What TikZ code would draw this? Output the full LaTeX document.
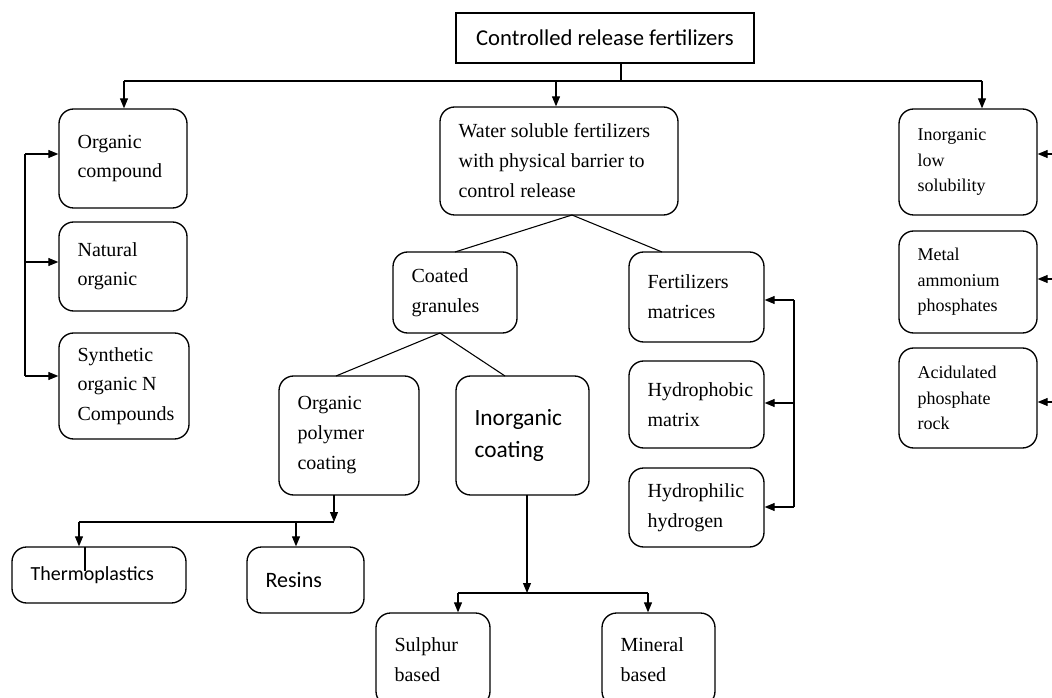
\documentclass[tikz,border=0pt]{standalone}
\usepackage{fontspec}
\setmainfont{Liberation Serif}
\newfontfamily\calib{Carlito}
\usetikzlibrary{arrows.meta,calc}
\tikzset{
  boxst/.style={draw, line width=1pt, rounded corners=11pt, inner sep=0pt},
  conn/.style={line width=0.8pt},
  arr/.style={line width=0.8pt, -{Triangle[length=7.5pt,width=6pt]}},
  midserif/.style={font=\fontsize{15}{22.5}\selectfont, align=left, inner sep=0pt},
  leftserif/.style={font=\fontsize{15}{22}\selectfont, align=left, inner sep=0pt},
  rightserif/.style={font=\fontsize{13.5}{19}\selectfont, align=left, inner sep=0pt},
  sanstxt/.style={font=\calib\fontsize{16.5}{24}\selectfont, align=left, inner sep=0pt},
  sansbig/.style={font=\calib\fontsize{17.5}{24}\selectfont, align=left, inner sep=0pt},
  sanssmall/.style={font=\calib\fontsize{15}{20}\selectfont, align=left, inner sep=0pt},
}
\newcommand{\mybox}[7]{%
  \pgfmathsetmacro\bw{(#4-#2)*0.75}%
  \pgfmathsetmacro\bh{(#5-#3)*0.75}%
  \node[boxst,minimum width=\bw pt,minimum height=\bh pt] (#1) at ({(#2+#4)/2},{(#3+#5)/2}) {};%
  \node[#6,anchor=west] (#1-t) at ([xshift=14.25pt]#1.west) {#7};%
}
\begin{document}
\begin{tikzpicture}[x=0.75pt,y=-0.75pt]
\useasboundingbox (0,0) rectangle (1052,698);
\clip (0,0) rectangle (1052,698);
% top
\node[draw, line width=1pt, minimum width=223.5pt, minimum height=37.5pt, inner sep=0pt,
      font=\calib\fontsize{17}{20}\selectfont] (top) at (605,38) {Controlled release fertilizers};
% boxes
\mybox{oc}{59}{109}{187}{208}{leftserif}{Organic\\compound}
\mybox{no}{59}{222}{187}{311}{leftserif}{Natural\\organic}
\mybox{so}{59}{333}{189}{439}{leftserif}{Synthetic\\organic N\\Compounds}
\mybox{ws}{440}{107}{678}{215}{midserif}{Water soluble fertilizers\\with physical barrier to\\control release}
\mybox{cg}{393}{252}{517}{333}{midserif}{Coated\\granules}
\mybox{fm}{629}{252}{764}{342}{midserif}{Fertilizers\\matrices}
\mybox{hpm}{629}{361}{764}{448}{midserif}{Hydrophobic\\matrix}
\mybox{hh}{629}{468}{764}{547}{midserif}{Hydrophilic\\hydrogen}
\mybox{op}{279}{376}{419}{495}{midserif}{Organic\\polymer\\coating}
\mybox{ic}{456}{376}{589}{495}{sansbig}{Inorganic\\coating}
\mybox{tp}{12}{547}{186}{603}{sanssmall}{Thermoplastics}
\mybox{rs}{247}{547}{364}{613}{sanstxt}{Resins}
\mybox{sb}{376}{613}{490}{706}{midserif}{Sulphur\\based}
\mybox{mb}{602}{613}{715}{706}{midserif}{Mineral\\based}
\mybox{ils}{899}{109}{1037}{215}{rightserif}{Inorganic\\low\\solubility}
\mybox{map}{899}{231}{1037}{333}{rightserif}{Metal\\ammonium\\phosphates}
\mybox{apr}{899}{348}{1037}{448}{rightserif}{Acidulated\\phosphate\\rock}
% top connectors
\coordinate (hl) at (124,81);
\coordinate (hc) at (556,81);
\coordinate (hj) at (621,81);
\coordinate (hr) at (982,81);
\draw[conn] (top.south -| hj) -- (hj);
\draw[conn] (hl) -- (hr);
\draw[arr] (hl) -- (hl |- oc.north);
\draw[arr] (hc) -- (hc |- ws.north);
\draw[arr] (hr) -- (hr |- ils.north);
% left bracket
\coordinate (lb1) at (25,154);
\coordinate (lb2) at (25,262);
\coordinate (lb3) at (25,376);
\draw[conn] (lb1) -- (lb3);
\draw[arr] (lb1) -- (lb1 -| oc.west);
\draw[arr] (lb2) -- (lb2 -| no.west);
\draw[arr] (lb3) -- (lb3 -| so.west);
% water soluble split
\coordinate (wsa) at (572,215);
\coordinate (cga) at (455,252);
\coordinate (fma) at (662,252);
\draw[conn] (wsa) -- (cga);
\draw[conn] (wsa) -- (fma);
% coated granules split
\coordinate (cgb) at (440,333);
\coordinate (opa) at (336,376);
\coordinate (ica) at (505,376);
\draw[conn] (cgb) -- (opa);
\draw[conn] (cgb) -- (ica);
% fertilizer matrices bracket
\coordinate (fb1) at (794,300);
\coordinate (fb2) at (794,403);
\coordinate (fb3) at (794,507);
\draw[conn] (fb1) -- (fb3);
\draw[arr] (fb1) -- (fb1 -| fm.east);
\draw[arr] (fb2) -- (fb2 -| hpm.east);
\draw[arr] (fb3) -- (fb3 -| hh.east);
% right side arrows
\coordinate (rb1) at (1052,154);
\coordinate (rb2) at (1052,279);
\coordinate (rb3) at (1052,402);
\draw[arr] (rb1) -- (rb1 -| ils.east);
\draw[arr] (rb2) -- (rb2 -| map.east);
\draw[arr] (rb3) -- (rb3 -| apr.east);
% organic polymer to thermoplastics / resins
\coordinate (opb) at (334,495);
\coordinate (opj) at (334,522);
\coordinate (tpj) at (79,522);
\coordinate (rsj) at (296,522);
\draw[arr] (opb) -- (opj);
\draw[conn] (tpj) -- (opj);
\draw[arr] (tpj) -- (tpj |- tp.north);
\draw[arr] (rsj) -- (rsj |- rs.north);
\coordinate (tps) at (85,547);
\coordinate (tpe) at (85,571);
\draw[conn] (tps) -- (tpe);
% inorganic coating to sulphur / mineral
\coordinate (icb) at (527,495);
\coordinate (icj) at (527,593);
\coordinate (sbj) at (458,593);
\coordinate (mbj) at (648,593);
\draw[arr] (icb) -- (icj);
\draw[conn] (sbj) -- (mbj);
\draw[arr] (sbj) -- (sbj |- sb.north);
\draw[arr] (mbj) -- (mbj |- mb.north);
\end{tikzpicture}
\end{document}
